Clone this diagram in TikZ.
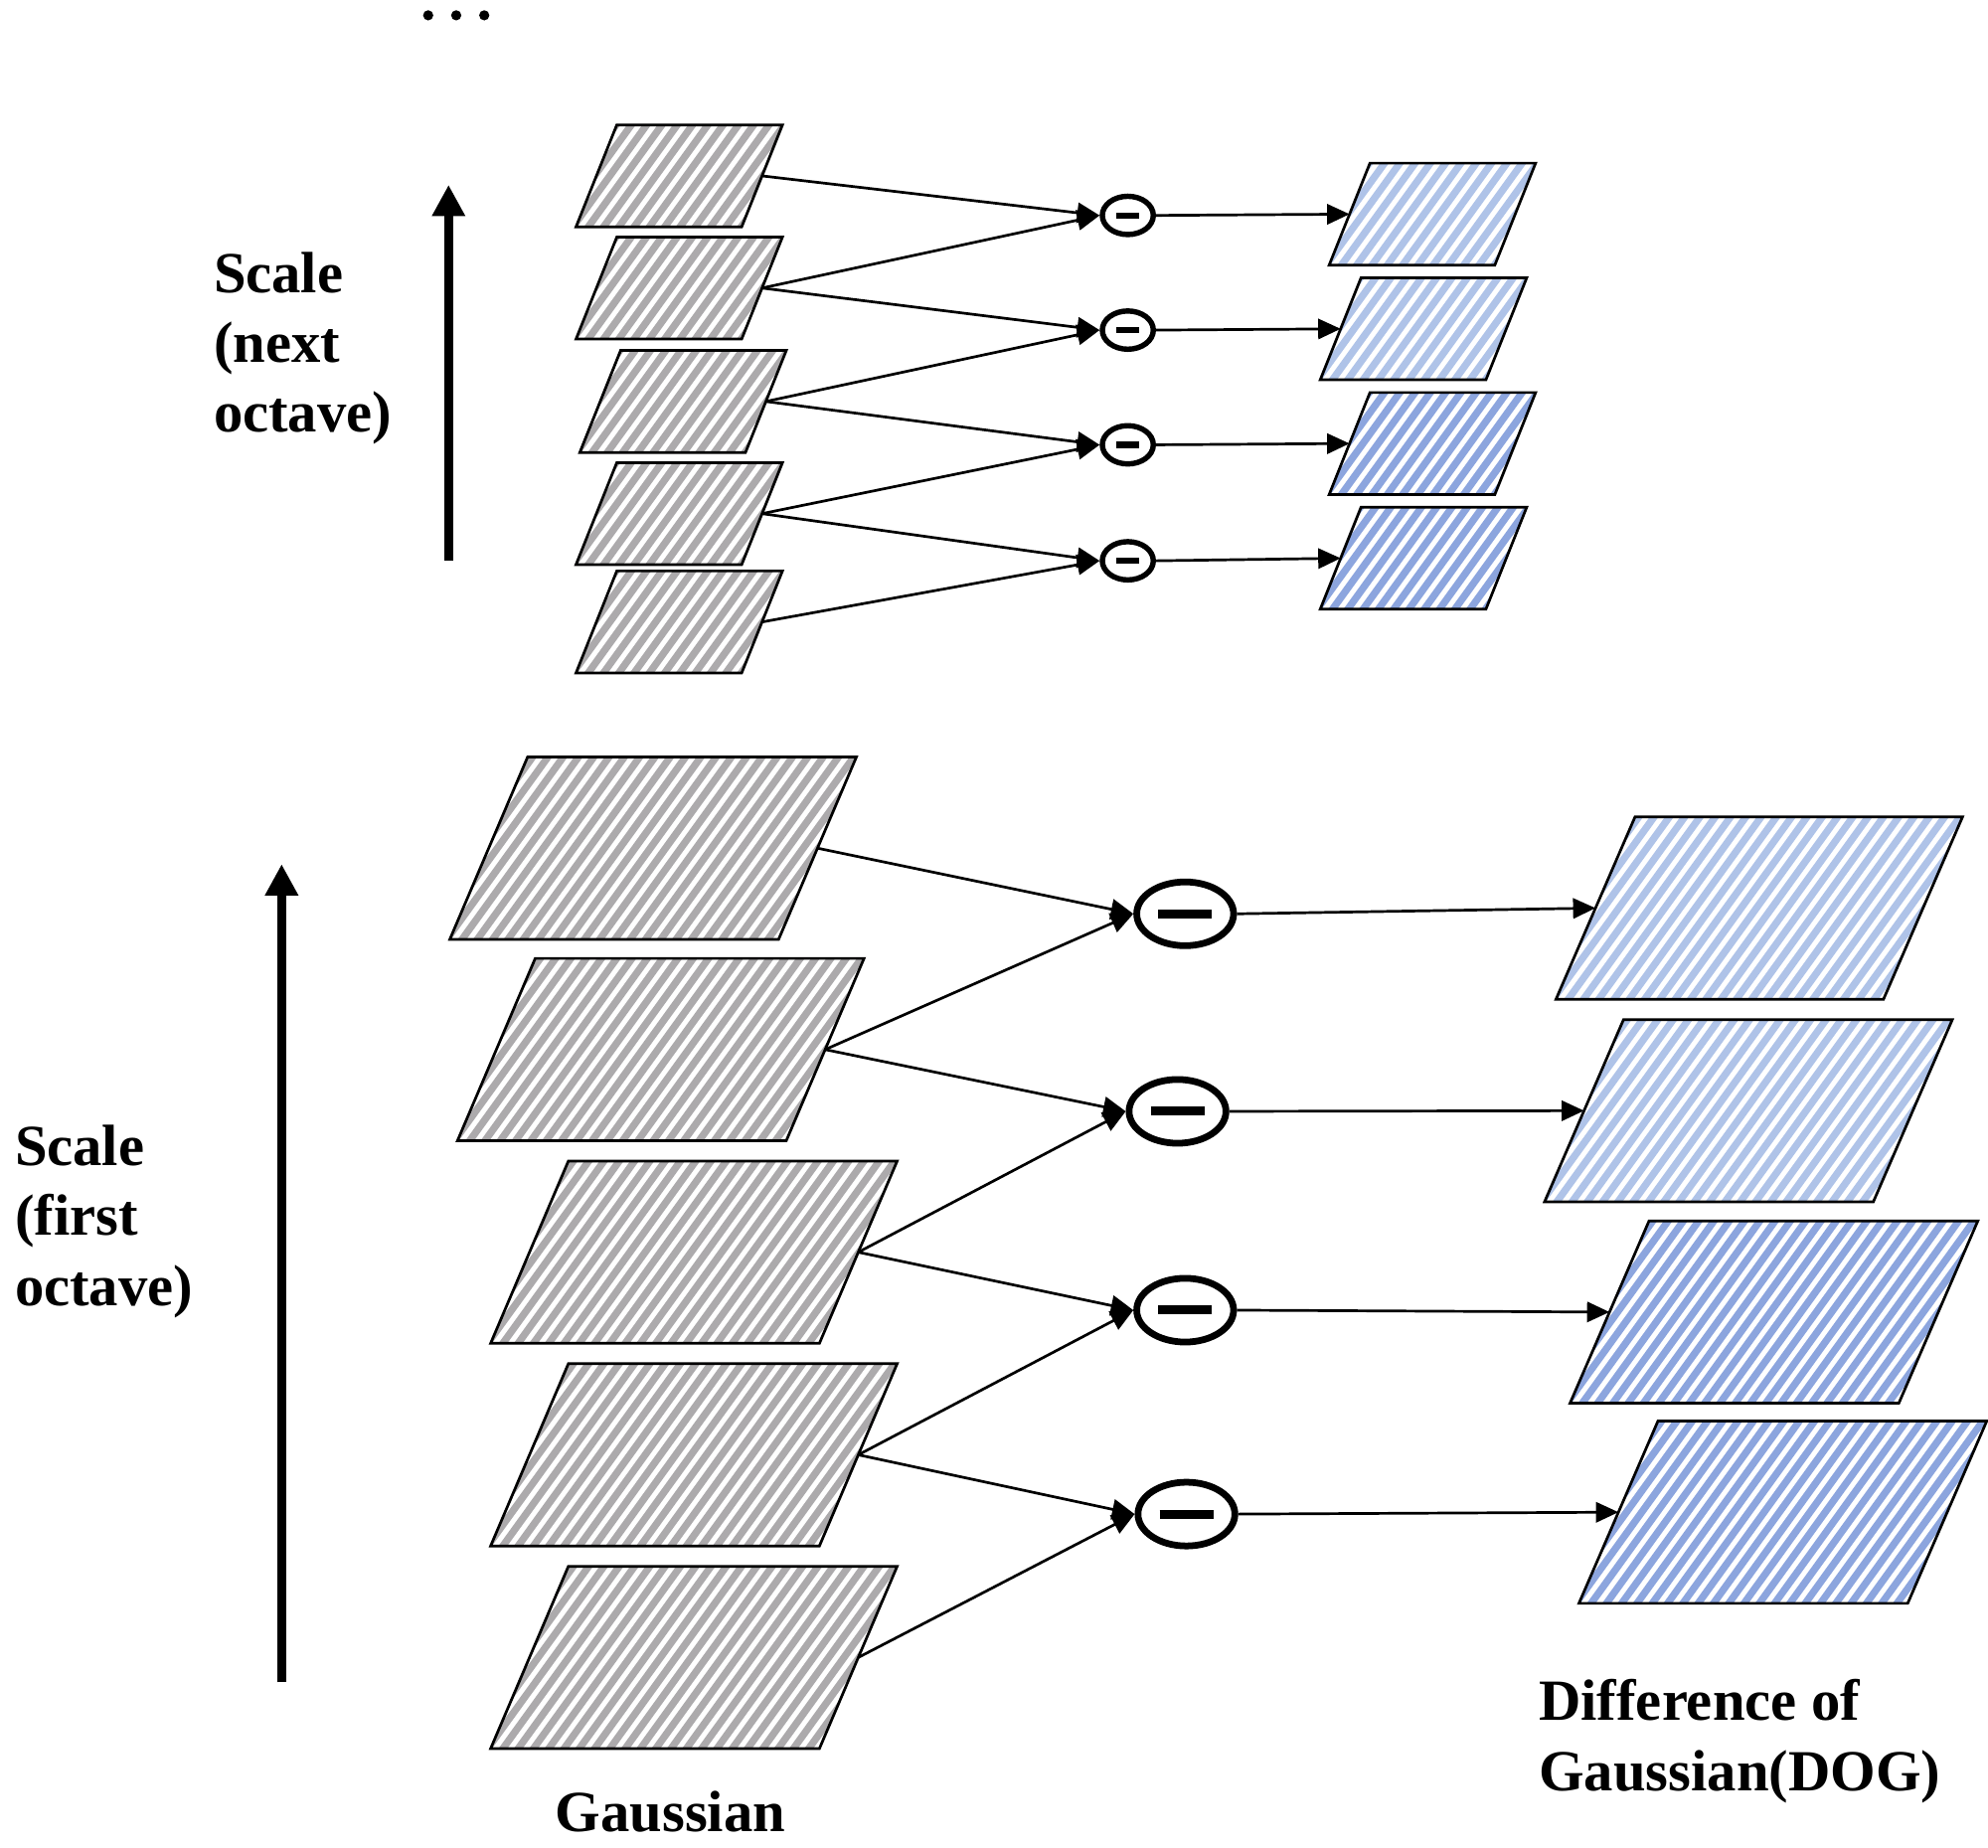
\documentclass[tikz,border=0pt]{standalone}
\usepackage{fontspec}
\setmainfont{Liberation Serif}
\usetikzlibrary{arrows.meta,shapes.geometric}
\definecolor{gstripe}{RGB}{172,170,172}
\definecolor{lblue}{RGB}{175,195,232}
\definecolor{dblue}{RGB}{140,165,222}
\newcommand{\pgram}[8]{% name, blx, by, w, slant, h, color, width
 \begin{scope}
 \clip (#2,#3) -- ++(#5,-#6) -- ++(#4,0) -- ++(-#5,#6) -- cycle;
 \foreach \k in {-150,-138,...,330} \draw[#7, line width=#8] (#2+\k,#3+5) -- ++(125,-173);
 \end{scope}
 \draw[line width=0.6pt] (#2,#3) -- ++(#5,-#6) -- ++(#4,0) -- ++(-#5,#6) -- cycle;
 \coordinate (#1R) at (#2+#4+#5/2,#3-#6/2);
 \coordinate (#1L) at (#2+#5/2,#3-#6/2);
}
\tikzset{
 sm/.style={ellipse,draw,line width=1.2pt,minimum width=0.4cm,minimum height=0.3cm,inner sep=0},
 bg/.style={ellipse,draw,line width=1.5pt,minimum width=0.76cm,minimum height=0.5cm,inner sep=0},
 arr/.style={line width=0.6pt,-{Triangle[length=5pt,width=4.5pt]}},
 sarr/.style={line width=2pt,-{Triangle[length=7pt,width=7pt]}},
 lab/.style={font=\bfseries\fontsize{13}{15.6}\selectfont,align=left,anchor=north west,inner sep=0}
}
\begin{document}
\begin{tikzpicture}[x=0.01cm,y=-0.01cm]
\useasboundingbox (0,0) rectangle (1560,1450);
% top gaussians
\pgram{g1}{452}{178}{130}{32}{80}{gstripe}{1.6pt}
\pgram{g2}{452}{266}{130}{32}{80}{gstripe}{1.6pt}
\pgram{g3}{455}{355}{130}{32}{80}{gstripe}{1.6pt}
\pgram{g4}{452}{443}{130}{32}{80}{gstripe}{1.6pt}
\pgram{g5}{452}{528}{130}{32}{80}{gstripe}{1.6pt}
% top dog
\pgram{d1}{1043}{208}{130}{32}{80}{lblue}{1.6pt}
\pgram{d2}{1036}{298}{130}{32}{80}{lblue}{1.6pt}
\pgram{d3}{1043}{388}{130}{32}{80}{dblue}{1.6pt}
\pgram{d4}{1036}{478}{130}{32}{80}{dblue}{1.6pt}
% bottom gaussians
\pgram{G1}{353}{737}{258}{61}{143}{gstripe}{1.6pt}
\pgram{G2}{359}{895}{258}{61}{143}{gstripe}{1.6pt}
\pgram{G3}{385}{1054}{258}{61}{143}{gstripe}{1.6pt}
\pgram{G4}{385}{1213}{258}{61}{143}{gstripe}{1.6pt}
\pgram{G5}{385}{1372}{258}{61}{143}{gstripe}{1.6pt}
% bottom dog
\pgram{D1}{1221}{784}{257}{62}{143}{lblue}{1.6pt}
\pgram{D2}{1212}{943}{258}{62}{143}{lblue}{1.6pt}
\pgram{D3}{1232}{1101}{258}{62}{143}{dblue}{1.6pt}
\pgram{D4}{1239}{1258}{258}{62}{143}{dblue}{1.6pt}
% circles
\foreach \n/\y in {1/169,2/259,3/349,4/440}{
 \node[sm] (c\n) at (885,\y) {};
 \draw[line width=1.4pt] (c\n.center) ++(-9,0) -- ++(18,0);
}
\foreach \n/\x/\y in {1/930/717,2/924/872,3/930/1028,4/931/1188}{
 \node[bg] (C\n) at (\x,\y) {};
 \draw[line width=2pt] (C\n.center) ++(-21,0) -- ++(42,0);
}
% top arrows
\draw[arr] (g1R) -- (c1.west);
\draw[arr] (g2R) -- (c1.west);
\draw[arr] (g2R) -- (c2.west);
\draw[arr] (g3R) -- (c2.west);
\draw[arr] (g3R) -- (c3.west);
\draw[arr] (g4R) -- (c3.west);
\draw[arr] (g4R) -- (c4.west);
\draw[arr] (g5R) -- (c4.west);
\foreach \n in {1,...,4} \draw[arr] (c\n.east) -- (d\n L);
% bottom arrows
\draw[arr] (G1R) -- (C1.west);
\draw[arr] (G2R) -- (C1.west);
\draw[arr] (G2R) -- (C2.west);
\draw[arr] (G3R) -- (C2.west);
\draw[arr] (G3R) -- (C3.west);
\draw[arr] (G4R) -- (C3.west);
\draw[arr] (G4R) -- (C4.west);
\draw[arr] (G5R) -- (C4.west);
\foreach \n in {1,...,4} \draw[arr] (C\n.east) -- (D\n L);
% scale arrows
\coordinate (s1a) at (352,440); \coordinate (s1b) at (352,145);
\coordinate (s2a) at (221,1320); \coordinate (s2b) at (221,678);
\draw[sarr] (s1a) -- (s1b);
\draw[sarr] (s2a) -- (s2b);
% texts
\node[lab] (t1) at (167,197) {Scale\\(next\\octave)};
\node[lab] (t2) at (11,882) {Scale\\(first\\octave)};
\node[lab,anchor=north] (t3) at (526,1405) {Gaussian};
\node[lab] (t4) at (1207,1317) {Difference of\\Gaussian(DOG)};
\node[inner sep=0] (t5) at (358,12) {\tikz[x=0.01cm]{\foreach \i in {0,1,2} \fill (\i*22,0) circle (4);}};
\end{tikzpicture}
\end{document}
